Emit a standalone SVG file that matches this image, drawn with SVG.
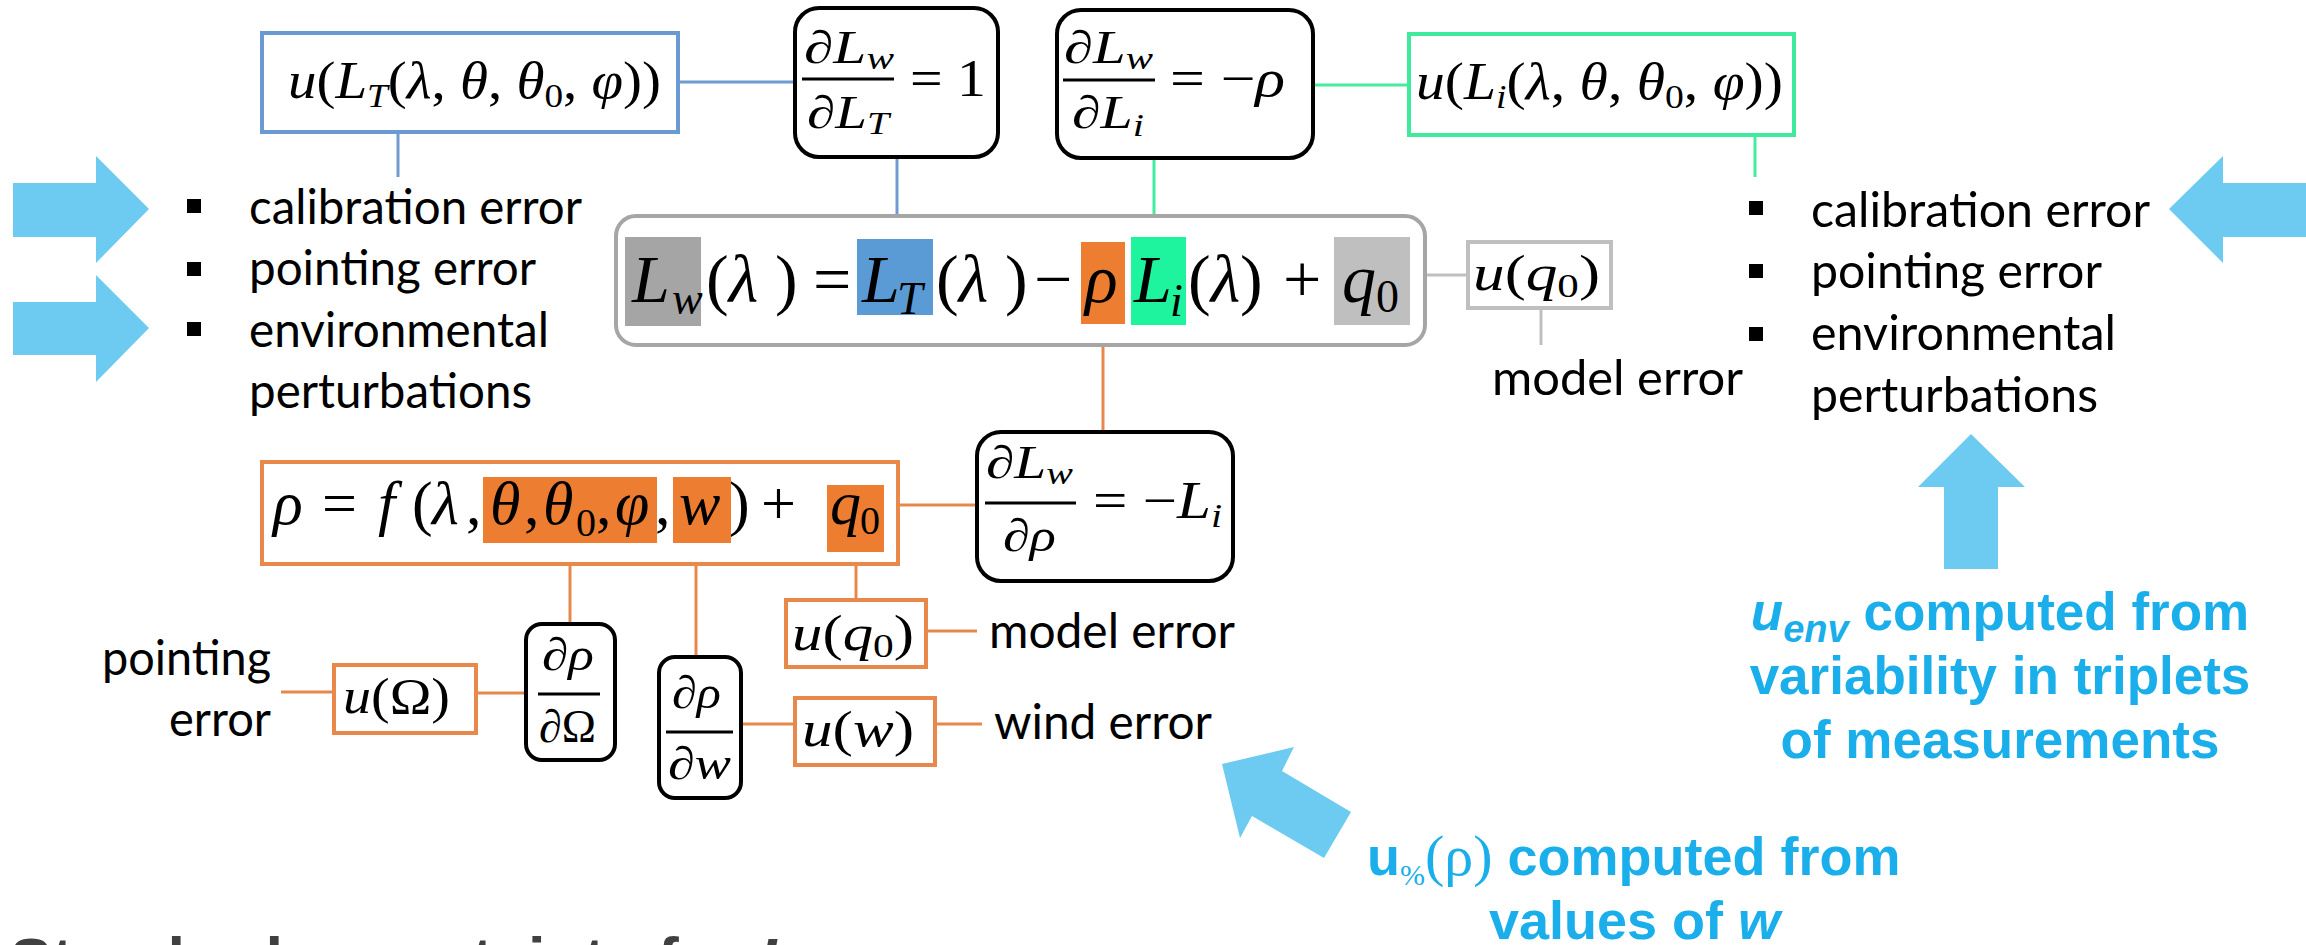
<svg xmlns="http://www.w3.org/2000/svg" width="2306" height="945" viewBox="0 0 2306 945">
  <style>
    .m { font-family: "Liberation Serif", "DejaVu Serif", serif; fill: #000; }
    .i { font-style: italic; }
    .lbl { font-family: Lato, "Liberation Sans", sans-serif; font-size: 48px; fill: #000; }
    .note { font-family: "Liberation Sans", Arial, sans-serif; font-weight: bold; fill: #1aafea; }
    .sym { font-family: "Liberation Serif", serif; font-weight: normal; }
    .arrow { fill: #6dcbf2; }
    .bullet { fill: #000; }
    .dbox { fill: none; stroke: #000; stroke-width: 4; }
    .bar { stroke: #000; stroke-width: 3; }
    .c-blue { stroke: #6f9bd0; stroke-width: 3; fill: none; }
    .c-green { stroke: #45eb9f; stroke-width: 3; fill: none; }
    .c-gray { stroke: #bfbfbf; stroke-width: 3; fill: none; }
    .c-orange { stroke: #e6884c; stroke-width: 3; fill: none; }
    .b-blue { fill: #fff; stroke: #6a9ad2; stroke-width: 4; }
    .b-green { fill: #fff; stroke: #3fea9c; stroke-width: 4; }
    .b-gray { fill: #fff; stroke: #bfbfbf; stroke-width: 4; }
    .b-orange { fill: #fff; stroke: #e8884b; stroke-width: 4; }
    .hl-orange { fill: #ed7d31; }
  </style>

  <!-- connectors -->
  <g id="connectors">
    <line class="c-blue" x1="678" y1="82" x2="795" y2="82"/>
    <line class="c-blue" x1="398" y1="132" x2="398" y2="177"/>
    <line class="c-blue" x1="897" y1="157" x2="897" y2="239"/>
    <line class="c-green" x1="1313" y1="85" x2="1409" y2="85"/>
    <line class="c-green" x1="1154" y1="158" x2="1154" y2="237"/>
    <line class="c-green" x1="1755" y1="135" x2="1755" y2="177"/>
    <line class="c-gray" x1="1410" y1="275" x2="1468" y2="275"/>
    <line class="c-gray" x1="1541" y1="309" x2="1541" y2="345"/>
    <line class="c-orange" x1="1103" y1="324" x2="1103" y2="432"/>
    <line class="c-orange" x1="898" y1="505" x2="977" y2="505"/>
    <line class="c-orange" x1="570" y1="543" x2="570" y2="624"/>
    <line class="c-orange" x1="696" y1="543" x2="696" y2="657"/>
    <line class="c-orange" x1="856" y1="552" x2="856" y2="600"/>
    <line class="c-orange" x1="926" y1="631" x2="977" y2="631"/>
    <line class="c-orange" x1="281" y1="692" x2="334" y2="692"/>
    <line class="c-orange" x1="476" y1="693" x2="526" y2="693"/>
    <line class="c-orange" x1="741" y1="724" x2="795" y2="724"/>
    <line class="c-orange" x1="935" y1="724" x2="982" y2="724"/>
  </g>

  <!-- blue block arrows -->
  <g id="arrows">
    <polygon class="arrow" points="13,183 96,183 96,156 149,209 96,263 96,237 13,237"/>
    <polygon class="arrow" points="13,302 96,302 96,275 149,328 96,382 96,355 13,355"/>
    <polygon class="arrow" points="2306,183 2223,183 2223,156 2169,209 2223,263 2223,237 2306,237"/>
    <polygon class="arrow" points="1971,434 2025,487 1998,487 1998,569 1944,569 1944,487 1918,487"/>
    <polygon class="arrow" points="1222,764 1294,747 1282,771 1351,812 1324,858 1252,816 1240,838"/>
  </g>

  <!-- u(L_T) -->
  <g id="node-uLT">
    <rect class="b-blue" x="262" y="33" width="416" height="99"/>
    <text class="m" x="288" y="98" font-size="52" textLength="373" lengthAdjust="spacingAndGlyphs"><tspan class="i">u</tspan>(<tspan class="i">L</tspan><tspan class="i" font-size="34" dy="9">T</tspan><tspan dy="-9">(</tspan><tspan class="i">λ</tspan>, <tspan class="i">θ</tspan>, <tspan class="i">θ</tspan><tspan font-size="34" dy="9">0</tspan><tspan dy="-9">, </tspan><tspan class="i">φ</tspan>))</text>
  </g>

  <!-- u(L_i) -->
  <g id="node-uLi">
    <rect class="b-green" x="1409" y="34" width="385" height="101"/>
    <text class="m" x="1416" y="99" font-size="52" textLength="367" lengthAdjust="spacingAndGlyphs"><tspan class="i">u</tspan>(<tspan class="i">L</tspan><tspan class="i" font-size="34" dy="9">i</tspan><tspan dy="-9">(</tspan><tspan class="i">λ</tspan>, <tspan class="i">θ</tspan>, <tspan class="i">θ</tspan><tspan font-size="34" dy="9">0</tspan><tspan dy="-9">, </tspan><tspan class="i">φ</tspan>))</text>
  </g>

  <!-- dLw/dLT = 1 -->
  <g id="node-dLw-dLT">
    <rect class="dbox" x="795" y="8" width="203" height="149" rx="24"/>
    <text class="m" x="804" y="63" font-size="46" textLength="90" lengthAdjust="spacingAndGlyphs">∂<tspan class="i">L</tspan><tspan class="i" font-size="32" dy="6">w</tspan></text>
    <line class="bar" x1="802" y1="79" x2="894" y2="79"/>
    <text class="m" x="807" y="128" font-size="46" textLength="82" lengthAdjust="spacingAndGlyphs">∂<tspan class="i">L</tspan><tspan class="i" font-size="32" dy="6">T</tspan></text>
    <text class="m" x="910" y="96" font-size="52" textLength="76" lengthAdjust="spacingAndGlyphs">= 1</text>
  </g>

  <!-- dLw/dLi = -rho -->
  <g id="node-dLw-dLi">
    <rect class="dbox" x="1057" y="10" width="256" height="148" rx="24"/>
    <text class="m" x="1064" y="63" font-size="46" textLength="89" lengthAdjust="spacingAndGlyphs">∂<tspan class="i">L</tspan><tspan class="i" font-size="32" dy="6">w</tspan></text>
    <line class="bar" x1="1063" y1="80" x2="1155" y2="80"/>
    <text class="m" x="1072" y="128" font-size="46" textLength="72" lengthAdjust="spacingAndGlyphs">∂<tspan class="i">L</tspan><tspan class="i" font-size="32" dy="8">i</tspan></text>
    <text class="m" x="1170" y="96" font-size="52" textLength="115" lengthAdjust="spacingAndGlyphs">= −<tspan class="i">ρ</tspan></text>
  </g>

  <!-- main balance equation -->
  <g id="node-Lw">
    <rect x="616" y="216" width="809" height="129" rx="20" fill="#fff" stroke="#a6a6a6" stroke-width="4"/>
    <rect x="625" y="237" width="76" height="89" fill="#a5a5a5"/>
    <rect x="857" y="239" width="76" height="76" fill="#5b9bd5"/>
    <rect x="1081" y="242" width="44" height="82" fill="#ed7d31"/>
    <rect x="1131" y="237" width="55" height="88" fill="#1ef39d"/>
    <rect x="1334" y="237" width="76" height="88" fill="#bfbfbf"/>
    <g class="m" font-size="68">
      <text x="632" y="302" class="i">L</text>
      <text x="672" y="314" class="i" font-size="46">w</text>
      <text x="706" y="302">(<tspan class="i">λ</tspan> )</text>
      <text x="813" y="302">=</text>
      <text x="862" y="302" class="i">L</text>
      <text x="897" y="314" class="i" font-size="46">T</text>
      <text x="936" y="302">(<tspan class="i">λ</tspan> )</text>
      <text x="1034" y="302">−</text>
      <text x="1085" y="302" class="i">ρ</text>
      <text x="1134" y="302" class="i">L</text>
      <text x="1170" y="316" class="i" font-size="46">i</text>
      <text x="1188" y="302">(<tspan class="i">λ</tspan>)</text>
      <text x="1283" y="302">+</text>
      <text x="1342" y="302" class="i">q</text>
      <text x="1376" y="312" font-size="46">0</text>
    </g>
  </g>

  <!-- u(q0) for the balance equation -->
  <g id="node-uq0-gray">
    <rect class="b-gray" x="1468" y="242" width="143" height="66"/>
    <text class="m" x="1473" y="290" font-size="50" textLength="127" lengthAdjust="spacingAndGlyphs"><tspan class="i">u</tspan>(<tspan class="i">q</tspan><tspan font-size="34" dy="7">0</tspan><tspan dy="-7">)</tspan></text>
    <text class="lbl" x="1492" y="395" textLength="251" lengthAdjust="spacingAndGlyphs">model error</text>
  </g>

  <!-- reflectance model -->
  <g id="node-rho">
    <rect class="b-orange" x="262" y="462" width="636" height="102"/>
    <rect class="hl-orange" x="483" y="477" width="174" height="66"/>
    <rect class="hl-orange" x="673" y="477" width="58" height="66"/>
    <rect class="hl-orange" x="827" y="485" width="57" height="67"/>
    <g class="m" font-size="62">
      <text x="273" y="524" class="i">ρ</text>
      <text x="322" y="524">=</text>
      <text x="378" y="524" class="i">f</text>
      <text x="412" y="524">(</text>
      <text x="432" y="524" class="i">λ</text>
      <text x="466" y="524">,</text>
      <text x="490" y="524" class="i">θ</text>
      <text x="524" y="524">,</text>
      <text x="543" y="524" class="i">θ</text>
      <text x="576" y="536" font-size="40">0</text>
      <text x="596" y="524">,</text>
      <text x="615" y="524" class="i">φ</text>
      <text x="655" y="524">,</text>
      <text x="679" y="524" class="i">w</text>
      <text x="729" y="524">)</text>
      <text x="761" y="524">+</text>
      <text x="830" y="524" class="i">q</text>
      <text x="860" y="534" font-size="40">0</text>
    </g>
  </g>

  <!-- dLw/drho = -Li -->
  <g id="node-dLw-drho">
    <rect class="dbox" x="977" y="432" width="256" height="149" rx="24"/>
    <text class="m" x="986" y="478" font-size="46" textLength="87" lengthAdjust="spacingAndGlyphs">∂<tspan class="i">L</tspan><tspan class="i" font-size="32" dy="6">w</tspan></text>
    <line class="bar" x1="985" y1="503" x2="1076" y2="503"/>
    <text class="m" x="1003" y="551" font-size="46" textLength="53" lengthAdjust="spacingAndGlyphs">∂<tspan class="i">ρ</tspan></text>
    <text class="m" x="1093" y="518" font-size="52" textLength="129" lengthAdjust="spacingAndGlyphs">= −<tspan class="i">L</tspan><tspan class="i" font-size="34" dy="9">i</tspan></text>
  </g>

  <!-- u(q0) of the model -->
  <g id="node-uq0-orange">
    <rect class="b-orange" x="786" y="600" width="140" height="67"/>
    <text class="m" x="792" y="650" font-size="50" textLength="122" lengthAdjust="spacingAndGlyphs"><tspan class="i">u</tspan>(<tspan class="i">q</tspan><tspan font-size="34" dy="7">0</tspan><tspan dy="-7">)</tspan></text>
    <text class="lbl" x="989" y="648" textLength="246" lengthAdjust="spacingAndGlyphs">model error</text>
  </g>

  <!-- drho/dOmega -->
  <g id="node-drho-dOmega">
    <rect class="dbox" x="526" y="624" width="89" height="136" rx="16"/>
    <text class="m" x="542" y="670" font-size="46" textLength="52" lengthAdjust="spacingAndGlyphs">∂<tspan class="i">ρ</tspan></text>
    <line class="bar" x1="538" y1="694" x2="600" y2="694"/>
    <text class="m" x="539" y="742" font-size="46" textLength="57" lengthAdjust="spacingAndGlyphs">∂Ω</text>
  </g>

  <!-- drho/dw -->
  <g id="node-drho-dw">
    <rect class="dbox" x="659" y="657" width="82" height="141" rx="16"/>
    <text class="m" x="672" y="708" font-size="46" textLength="49" lengthAdjust="spacingAndGlyphs">∂<tspan class="i">ρ</tspan></text>
    <line class="bar" x1="666" y1="732" x2="733" y2="732"/>
    <text class="m" x="668" y="779" font-size="46" textLength="63" lengthAdjust="spacingAndGlyphs">∂<tspan class="i">w</tspan></text>
  </g>

  <!-- u(Omega) -->
  <g id="node-uOmega">
    <rect class="b-orange" x="334" y="665" width="142" height="68"/>
    <text class="m" x="343" y="713" font-size="50" textLength="107" lengthAdjust="spacingAndGlyphs"><tspan class="i">u</tspan>(Ω)</text>
    <text class="lbl" x="271" y="675" text-anchor="end" textLength="169" lengthAdjust="spacingAndGlyphs">pointing</text>
    <text class="lbl" x="271" y="736" text-anchor="end" textLength="102" lengthAdjust="spacingAndGlyphs">error</text>
  </g>

  <!-- u(w) -->
  <g id="node-uw">
    <rect class="b-orange" x="795" y="698" width="140" height="67"/>
    <text class="m" x="802" y="746" font-size="50" textLength="112" lengthAdjust="spacingAndGlyphs"><tspan class="i">u</tspan>(<tspan class="i">w</tspan>)</text>
    <text class="lbl" x="994" y="739" textLength="218" lengthAdjust="spacingAndGlyphs">wind error</text>
  </g>

  <!-- error sources, left -->
  <g id="sources-left">
    <rect class="bullet" x="187" y="199" width="14" height="14"/>
    <rect class="bullet" x="187" y="262" width="14" height="14"/>
    <rect class="bullet" x="187" y="322" width="14" height="14"/>
    <text class="lbl" x="249" y="224" textLength="333" lengthAdjust="spacingAndGlyphs">calibration error</text>
    <text class="lbl" x="249" y="285" textLength="287" lengthAdjust="spacingAndGlyphs">pointing error</text>
    <text class="lbl" x="249" y="347" textLength="300" lengthAdjust="spacingAndGlyphs">environmental</text>
    <text class="lbl" x="249" y="408" textLength="283" lengthAdjust="spacingAndGlyphs">perturbations</text>
  </g>

  <!-- error sources, right -->
  <g id="sources-right">
    <rect class="bullet" x="1749" y="201" width="14" height="14"/>
    <rect class="bullet" x="1749" y="264" width="14" height="14"/>
    <rect class="bullet" x="1749" y="327" width="14" height="14"/>
    <text class="lbl" x="1811" y="227" textLength="339" lengthAdjust="spacingAndGlyphs">calibration error</text>
    <text class="lbl" x="1811" y="288" textLength="291" lengthAdjust="spacingAndGlyphs">pointing error</text>
    <text class="lbl" x="1811" y="350" textLength="305" lengthAdjust="spacingAndGlyphs">environmental</text>
    <text class="lbl" x="1811" y="412" textLength="287" lengthAdjust="spacingAndGlyphs">perturbations</text>
  </g>

  <!-- notes in blue -->
  <g id="note-env">
    <text class="note" font-size="53" x="2000" y="630" text-anchor="middle"><tspan font-style="italic">u</tspan><tspan font-style="italic" font-size="38" dy="12">env</tspan><tspan dy="-12"> computed from</tspan></text>
    <text class="note" font-size="53" x="2000" y="694" text-anchor="middle">variability in triplets</text>
    <text class="note" font-size="53" x="2000" y="758" text-anchor="middle">of measurements</text>
  </g>
  <g id="note-rho">
    <text class="note" font-size="54" x="1367" y="875">u<tspan class="sym" font-size="30" dy="10">%</tspan><tspan class="sym" font-size="58" dy="-10">(ρ)</tspan> computed from</text>
    <text class="note" font-size="54" x="1489" y="939">values of <tspan font-style="italic">w</tspan></text>
  </g>

  <!-- heading, running off the lower edge -->
  <text x="10" y="982" font-family="Liberation Sans, Arial, sans-serif" font-weight="bold" font-size="63" fill="#404040">Standard uncertainty for <tspan font-style="italic">L</tspan></text>
</svg>
